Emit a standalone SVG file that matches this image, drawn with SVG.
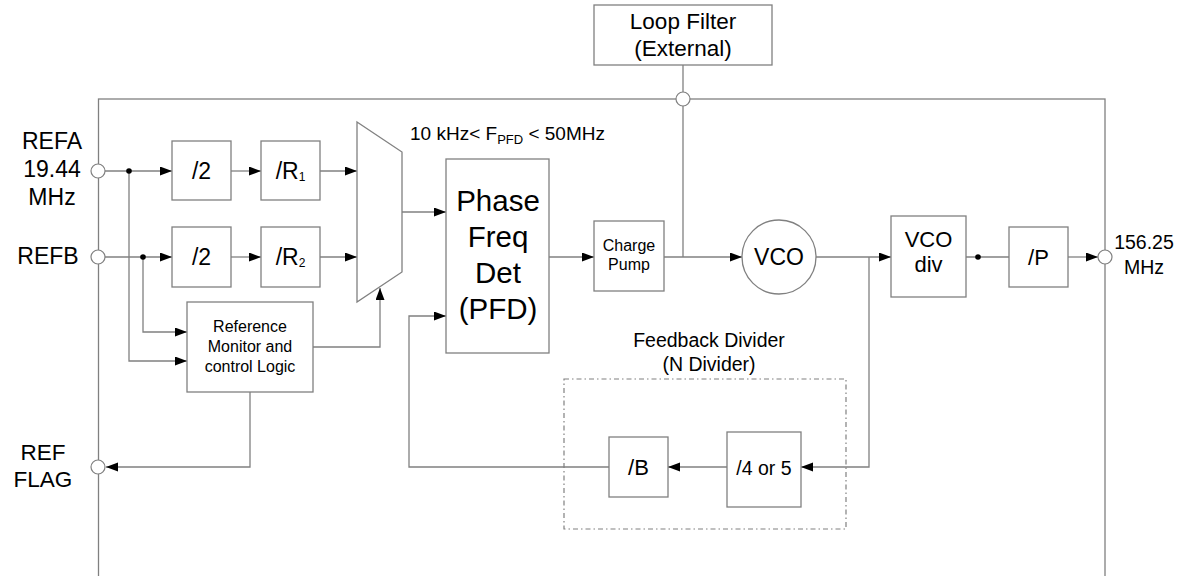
<svg xmlns="http://www.w3.org/2000/svg" width="1178" height="576" viewBox="0 0 1178 576">
<style>
.bx{fill:#fff;stroke:#808080;stroke-width:1.3}
.ln{fill:none;stroke:#808080;stroke-width:1.3}
.ar{fill:none;stroke:#808080;stroke-width:1.3;marker-end:url(#ah)}
.pin{fill:#fff;stroke:#808080;stroke-width:1.2}
text{font-family:"Liberation Sans",Arial,sans-serif;fill:#000}
.c{text-anchor:middle}
</style>
<defs>
<marker id="ah" markerUnits="userSpaceOnUse" markerWidth="13" markerHeight="10" refX="12" refY="4.5" orient="auto">
<path d="M0,0 L12,4.5 L0,9 z" fill="#000"/>
</marker>
</defs>
<rect x="98.5" y="99" width="1006.5" height="500" fill="none" stroke="#808080" stroke-width="1.3"/>

<g id="connectors">
<line class="ar" x1="105" y1="171" x2="172" y2="171"/>
<line class="ar" x1="231" y1="171" x2="261" y2="171"/>
<line class="ar" x1="320" y1="171" x2="357" y2="171"/>
<line class="ar" x1="105" y1="257" x2="172" y2="257"/>
<line class="ar" x1="231" y1="257" x2="261" y2="257"/>
<line class="ar" x1="320" y1="257" x2="357" y2="257"/>
<polyline class="ar" points="129,171 129,361 187,361"/>
<polyline class="ar" points="143,257 143,332 187,332"/>
<polyline class="ar" points="313,347 380,347 380,288"/>
<polyline class="ar" points="250,392 250,467 106,467"/>
<line class="ar" x1="402" y1="212" x2="446" y2="212"/>
<line class="ar" x1="549" y1="257" x2="594" y2="257"/>
<line class="ar" x1="664" y1="257" x2="742" y2="257"/>
<line class="ln" x1="683" y1="65" x2="683" y2="257"/>
<line class="ar" x1="816" y1="257" x2="891" y2="257"/>
<polyline class="ar" points="869,257 869,467 801,467"/>
<line class="ar" x1="727" y1="467" x2="668" y2="467"/>
<polyline class="ar" points="609,467 409,467 409,316 446,316"/>
<line class="ln" x1="966" y1="257" x2="1009" y2="257"/>
<line class="ar" x1="1068" y1="257" x2="1098" y2="257"/>
<circle cx="129" cy="171" r="2.8" fill="#000"/>
<circle cx="143" cy="257" r="2.8" fill="#000"/>
<circle cx="978" cy="257" r="2.8" fill="#000"/>
</g>

<g id="pins">
<circle class="pin" cx="98" cy="171" r="7"/>
<circle class="pin" cx="98" cy="257" r="7"/>
<circle class="pin" cx="98" cy="467" r="7"/>
<circle class="pin" cx="683" cy="99" r="7"/>
<circle class="pin" cx="1105" cy="257" r="7"/>
</g>

<g id="labels">
<text class="c" x="52" y="149" font-size="23">REFA</text>
<text class="c" x="52" y="177" font-size="23">19.44</text>
<text class="c" x="52" y="205" font-size="23">MHz</text>
<text class="c" x="48" y="264" font-size="23">REFB</text>
<text class="c" x="43" y="460" font-size="22.5">REF</text>
<text class="c" x="43" y="487" font-size="22.5">FLAG</text>
<text class="c" x="1144" y="249" font-size="19.5">156.25</text>
<text class="c" x="1144" y="274" font-size="19.5">MHz</text>
<text x="410" y="140" font-size="19">10 kHz&lt; F<tspan font-size="13" dy="4">PFD</tspan><tspan dy="-4"> &lt; 50MHz</tspan></text>
</g>

<g id="loopfilter">
<rect class="bx" x="594" y="5" width="178" height="60"/>
<text class="c" x="683" y="29" font-size="22.5">Loop Filter</text>
<text class="c" x="683" y="56" font-size="22.5">(External)</text>
</g>

<g id="div2a">
<rect class="bx" x="172" y="141" width="59" height="59"/>
<text class="c" x="201.5" y="179" font-size="23">/2</text>
</g>
<g id="r1">
<rect class="bx" x="261" y="141" width="59" height="59"/>
<text class="c" x="290.5" y="179" font-size="23">/R<tspan font-size="12" dy="2">1</tspan></text>
</g>
<g id="div2b">
<rect class="bx" x="172" y="227" width="59" height="60"/>
<text class="c" x="201.5" y="265" font-size="23">/2</text>
</g>
<g id="r2">
<rect class="bx" x="261" y="227" width="59" height="60"/>
<text class="c" x="290.5" y="265" font-size="23">/R<tspan font-size="12" dy="2">2</tspan></text>
</g>

<g id="mux">
<polygon class="bx" points="357,122 402,152 402,272 357,302"/>
</g>

<g id="refmon">
<rect class="bx" x="187" y="302" width="126" height="90"/>
<text class="c" x="250" y="332" font-size="16">Reference</text>
<text class="c" x="250" y="352" font-size="16">Monitor and</text>
<text class="c" x="250" y="372" font-size="16">control Logic</text>
</g>

<g id="pfd">
<rect class="bx" x="446" y="159" width="103" height="194"/>
<text class="c" x="498" y="211" font-size="29.5">Phase</text>
<text class="c" x="498" y="247" font-size="29.5">Freq</text>
<text class="c" x="498" y="283" font-size="29.5">Det</text>
<text class="c" x="498" y="319" font-size="29.5">(PFD)</text>
</g>

<g id="chargepump">
<rect class="bx" x="594" y="221" width="70" height="70"/>
<text class="c" x="629" y="251" font-size="16">Charge</text>
<text class="c" x="629" y="270" font-size="16">Pump</text>
</g>

<g id="vco">
<circle class="bx" cx="779" cy="257" r="37"/>
<text class="c" x="779" y="265" font-size="23">VCO</text>
</g>

<g id="vcodiv">
<rect class="bx" x="891" y="216" width="75" height="81"/>
<text class="c" x="928.5" y="247" font-size="22">VCO</text>
<text class="c" x="928.5" y="272" font-size="22">div</text>
</g>

<g id="pdiv">
<rect class="bx" x="1009" y="227" width="59" height="60"/>
<text class="c" x="1038.5" y="265" font-size="22">/P</text>
</g>

<g id="feedback">
<rect x="564" y="379" width="282" height="150" fill="none" stroke="#808080" stroke-width="1.2" stroke-dasharray="5,3,1.5,3"/>
<text class="c" x="709" y="347" font-size="19.5">Feedback Divider</text>
<text class="c" x="709" y="371" font-size="19.5">(N Divider)</text>
</g>

<g id="bdiv">
<rect class="bx" x="609" y="437" width="59" height="60"/>
<text class="c" x="638.5" y="475" font-size="22">/B</text>
</g>

<g id="div45">
<rect class="bx" x="727" y="432" width="74" height="75"/>
<text class="c" x="764" y="475" font-size="19.5">/4 or 5</text>
</g>
</svg>
